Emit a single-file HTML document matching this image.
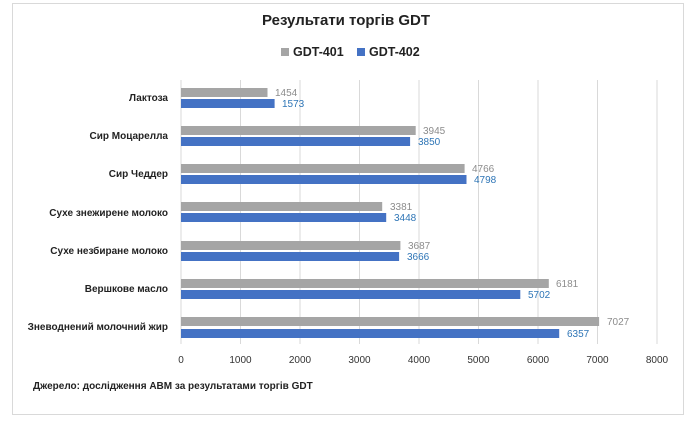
<!DOCTYPE html>
<html><head><meta charset="utf-8"><style>
body{margin:0;background:#fff;}
svg{display:block;font-family:"Liberation Sans","DejaVu Sans",sans-serif;}
</style></head><body>
<svg width="700" height="421" xmlns="http://www.w3.org/2000/svg">
<rect x="0" y="0" width="700" height="421" fill="#fff"/>
<rect x="12.5" y="3.5" width="671" height="411" fill="#fff" stroke="#d9d9d9"/>
<text x="346" y="25" font-size="15" font-weight="bold" text-anchor="middle" fill="#222">Результати торгів GDT</text>
<rect x="281" y="48" width="8" height="8" fill="#a5a5a5"/>
<text x="293" y="56" font-size="12.5" font-weight="bold" fill="#222">GDT-401</text>
<rect x="357" y="48" width="8" height="8" fill="#4472c4"/>
<text x="369" y="56" font-size="12.5" font-weight="bold" fill="#222">GDT-402</text>
<g stroke="#d9d9d9" stroke-width="1">
<line x1="181" y1="80" x2="181" y2="344"/><line x1="240.5" y1="80" x2="240.5" y2="344"/><line x1="300" y1="80" x2="300" y2="344"/><line x1="359.5" y1="80" x2="359.5" y2="344"/><line x1="419" y1="80" x2="419" y2="344"/><line x1="478.5" y1="80" x2="478.5" y2="344"/><line x1="538" y1="80" x2="538" y2="344"/><line x1="597.5" y1="80" x2="597.5" y2="344"/><line x1="657" y1="80" x2="657" y2="344"/>
</g>
<g font-size="10" fill="#333" text-anchor="middle">
<text x="181" y="363">0</text><text x="240.5" y="363">1000</text><text x="300" y="363">2000</text><text x="359.5" y="363">3000</text><text x="419" y="363">4000</text><text x="478.5" y="363">5000</text><text x="538" y="363">6000</text><text x="597.5" y="363">7000</text><text x="657" y="363">8000</text>
</g>
<g id="bars"></g>
<g font-size="10" font-weight="bold" fill="#222" text-anchor="end">
<text x="168" y="101">Лактоза</text>
<text x="168" y="139">Сир Моцарелла</text>
<text x="168" y="177">Сир Чеддер</text>
<text x="168" y="216">Сухе знежирене молоко</text>
<text x="168" y="254">Сухе незбиране молоко</text>
<text x="168" y="292">Вершкове  масло</text>
<text x="168" y="330">Зневоднений  молочний  жир</text>
</g>
<g>
<rect x="181" y="88" width="86.5" height="9" fill="#a5a5a5"/><rect x="181" y="99" width="93.6" height="9" fill="#4472c4"/>
<rect x="181" y="126" width="234.7" height="9" fill="#a5a5a5"/><rect x="181" y="137" width="229.1" height="9" fill="#4472c4"/>
<rect x="181" y="164" width="283.6" height="9" fill="#a5a5a5"/><rect x="181" y="175" width="285.5" height="9" fill="#4472c4"/>
<rect x="181" y="202" width="201.2" height="9" fill="#a5a5a5"/><rect x="181" y="213" width="205.2" height="9" fill="#4472c4"/>
<rect x="181" y="241" width="219.4" height="9" fill="#a5a5a5"/><rect x="181" y="252" width="218.1" height="9" fill="#4472c4"/>
<rect x="181" y="279" width="367.8" height="9" fill="#a5a5a5"/><rect x="181" y="290" width="339.3" height="9" fill="#4472c4"/>
<rect x="181" y="317" width="418.1" height="9" fill="#a5a5a5"/><rect x="181" y="329" width="378.2" height="9" fill="#4472c4"/>
</g>
<g font-size="10">
<text x="275" y="96" fill="#8c8c8c">1454</text><text x="282" y="107" fill="#2e75b6">1573</text>
<text x="423" y="134" fill="#8c8c8c">3945</text><text x="418" y="145" fill="#2e75b6">3850</text>
<text x="472" y="172" fill="#8c8c8c">4766</text><text x="474" y="183" fill="#2e75b6">4798</text>
<text x="390" y="210" fill="#8c8c8c">3381</text><text x="394" y="221" fill="#2e75b6">3448</text>
<text x="408" y="249" fill="#8c8c8c">3687</text><text x="407" y="260" fill="#2e75b6">3666</text>
<text x="556" y="287" fill="#8c8c8c">6181</text><text x="528" y="298" fill="#2e75b6">5702</text>
<text x="607" y="325" fill="#8c8c8c">7027</text><text x="567" y="337" fill="#2e75b6">6357</text>
</g>
<text x="33" y="389" font-size="10" font-weight="bold" fill="#222">Джерело: дослідження  АВМ за результатами  торгів GDT</text>
</svg>
</body></html>
